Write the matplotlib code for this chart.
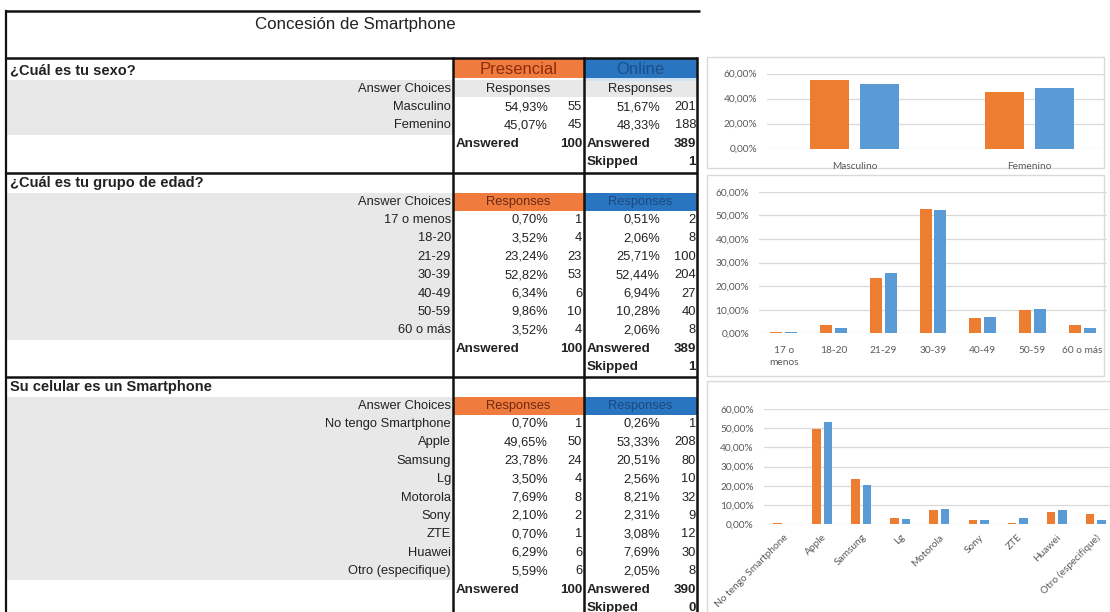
import numpy as np
import matplotlib
matplotlib.use("Agg")
import matplotlib.pyplot as plt
from matplotlib.patches import Rectangle
from matplotlib.ticker import FuncFormatter

# ---------------- data ----------------
title = "Concesión de Smartphone"

q1_title = "¿Cuál es tu sexo?"
q1_cats = ["Masculino", "Femenino"]
q1_pres_pct = [54.93, 45.07]
q1_pres_n = [55, 45]
q1_onl_pct = [51.67, 48.33]
q1_onl_n = [201, 188]
q1_answered = [100, 389]
q1_skipped = 1

q2_title = "¿Cuál es tu grupo de edad?"
q2_cats = ["17 o menos", "18-20", "21-29", "30-39", "40-49", "50-59", "60 o más"]
q2_chart_labels = ["17 o\nmenos", "18-20", "21-29", "30-39", "40-49", "50-59", "60 o más"]
q2_pres_pct = [0.70, 3.52, 23.24, 52.82, 6.34, 9.86, 3.52]
q2_pres_n = [1, 4, 23, 53, 6, 10, 4]
q2_onl_pct = [0.51, 2.06, 25.71, 52.44, 6.94, 10.28, 2.06]
q2_onl_n = [2, 8, 100, 204, 27, 40, 8]
q2_answered = [100, 389]
q2_skipped = 1

q3_title = "Su celular es un Smartphone"
q3_cats = ["No tengo Smartphone", "Apple", "Samsung", "Lg", "Motorola", "Sony",
           "ZTE", "Huawei", "Otro (especifique)"]
q3_pres_pct = [0.70, 49.65, 23.78, 3.50, 7.69, 2.10, 0.70, 6.29, 5.59]
q3_pres_n = [1, 50, 24, 4, 8, 2, 1, 6, 6]
q3_onl_pct = [0.26, 53.33, 20.51, 2.56, 8.21, 2.31, 3.08, 7.69, 2.05]
q3_onl_n = [1, 208, 80, 10, 32, 9, 12, 30, 8]
q3_answered = [100, 390]
q3_skipped = 0

group_names = ["Presencial", "Online"]

# ---------------- style ----------------
W, H = 1110, 612
FONT = "Liberation Sans"
GRAY = "#E8E8E8"
ORANGE_HDR = "#F07B3F"
BLUE_HDR = "#2A75BF"
ORANGE_TXT = "#8E2C0C"
BLUE_TXT = "#1C4F86"
BAR_OR = "#ED7D31"
BAR_BL = "#5B9BD5"
CHART_TXT = "#595959"

X_L, X_P, X_M, X_R = 6, 453, 584, 697
PITCH = 18.4
FS = 9.3
FSB = 9.6


def pct(v):
    return f"{v:.2f}%".replace(".", ",")


fig = plt.figure(figsize=(W / 100, H / 100), dpi=100)
bg = fig.add_axes([0, 0, 1, 1])
bg.set_xlim(0, W)
bg.set_ylim(H, 0)
bg.axis("off")


def rect(x0, y0, x1, y1, color, z=1):
    bg.add_patch(Rectangle((x0, y0), x1 - x0, y1 - y0, facecolor=color,
                           edgecolor="none", zorder=z))


def txt(x, y, s, ha="left", size=FS, weight="normal", color="#222222"):
    bg.text(x, y, s, ha=ha, va="center", fontsize=size, fontweight=weight,
            color=color, family=FONT, zorder=5)


def section(y_head, name, cats, pp, pn, op, on, answered, skipped, first=False):
    y_ac = y_head + 19
    rows = [y_ac + 18 + i * PITCH for i in range(len(cats))]
    y_ans = rows[-1] + PITCH
    y_skp = y_ans + PITCH
    rect(X_L, y_ac - 9.5, X_P, rows[-1] + PITCH / 2, GRAY)
    if first:
        rect(X_P, y_ac - 9.5, X_R, y_ac + 8, GRAY)
        rect(X_P, y_head - 12, X_M, y_head + 8, ORANGE_HDR)
        rect(X_M, y_head - 12, X_R, y_head + 8, BLUE_HDR)
        rect(X_M, y_head + 8, X_R, y_head + 10.5, "#CFE3F5")
        txt((X_P + X_M) / 2, y_head - 1, group_names[0], ha="center", size=12,
            color=ORANGE_TXT)
        txt((X_M + X_R) / 2, y_head - 1, group_names[1], ha="center", size=12,
            color=BLUE_TXT)
        txt((X_P + X_M) / 2, y_ac, "Responses", ha="center")
        txt((X_M + X_R) / 2, y_ac, "Responses", ha="center")
    else:
        rect(X_P, y_ac - 9.5, X_M, y_ac + 9, ORANGE_HDR)
        rect(X_M, y_ac - 9.5, X_R, y_ac + 9, BLUE_HDR)
        txt((X_P + X_M) / 2, y_ac, "Responses", ha="center", color="#6E2A10")
        txt((X_M + X_R) / 2, y_ac, "Responses", ha="center", color="#1B4A80")
    txt(10, y_head, name, size=10.5, weight="bold")
    txt(451, y_ac, "Answer Choices", ha="right")
    for y, c, a, b, d, e in zip(rows, cats, pp, pn, op, on):
        txt(451, y, c, ha="right")
        txt(548, y, pct(a), ha="right")
        txt(582, y, str(b), ha="right")
        txt(660, y, pct(d), ha="right")
        txt(696, y, str(e), ha="right")
    txt(456, y_ans, "Answered", weight="bold", size=FSB)
    txt(582, y_ans, str(answered[0]), ha="right", weight="bold", size=FSB)
    txt(587, y_ans, "Answered", weight="bold", size=FSB)
    txt(696, y_ans, str(answered[1]), ha="right", weight="bold", size=FSB)
    txt(587, y_skp, "Skipped", weight="bold", size=FSB)
    txt(696, y_skp, str(skipped), ha="right", weight="bold", size=FSB)


section(70, q1_title, q1_cats, q1_pres_pct, q1_pres_n, q1_onl_pct, q1_onl_n,
        q1_answered, q1_skipped, first=True)
section(183, q2_title, q2_cats, q2_pres_pct, q2_pres_n, q2_onl_pct, q2_onl_n,
        q2_answered, q2_skipped)
section(387, q3_title, q3_cats, q3_pres_pct, q3_pres_n, q3_onl_pct, q3_onl_n,
        q3_answered, q3_skipped)

# title
txt(355, 24, title, ha="center", size=12.2, color="#222222")

# table lines
LC = "#111111"
for y, x1 in [(11, 700), (58, X_R), (173, X_R), (377, X_R)]:
    bg.plot([X_L, x1], [y, y], color=LC, lw=1.8, solid_capstyle="butt", zorder=6)
bg.plot([X_L, X_L], [11, H], color=LC, lw=1.6, zorder=6)
for x in (X_P, X_M, X_R):
    bg.plot([x, x], [58, H], color=LC, lw=1.8, zorder=6)

# chart boxes
for (x0, y0, x1, y1) in [(707, 57, 1104, 168), (707, 175, 1104, 376), (707, 381, 1115, 640)]:
    bg.add_patch(Rectangle((x0, y0), x1 - x0, y1 - y0, fill=False,
                           edgecolor="#D9D9D9", lw=1, zorder=2))

fmt = FuncFormatter(lambda v, p: pct(v))


def chart(px0, px1, py0, py1, cats, pres, onl, yticks, xlim, width, off,
          rot=0, xpad=9):
    ax = fig.add_axes([px0 / W, 1 - py1 / H, (px1 - px0) / W, (py1 - py0) / H])
    ax.set_facecolor("none")
    x = np.arange(len(cats))
    ax.bar(x - off, pres, width, color=BAR_OR, zorder=3)
    ax.bar(x + off, onl, width, color=BAR_BL, zorder=3)
    ax.set_ylim(0, 60)
    ax.set_xlim(*xlim)
    ax.set_yticks(yticks)
    ax.yaxis.set_major_formatter(fmt)
    ax.grid(axis="y", color="#D9D9D9", lw=0.9, zorder=0)
    ax.set_axisbelow(True)
    for s in ax.spines.values():
        s.set_visible(False)
    ax.set_xticks(x)
    if rot:
        ax.set_xticklabels(cats, rotation=rot, ha="right", rotation_mode="anchor")
    else:
        ax.set_xticklabels(cats, linespacing=1.5)
    ax.tick_params(axis="y", length=0, pad=7, labelsize=7.3, labelcolor=CHART_TXT)
    ax.tick_params(axis="x", length=0, pad=xpad, labelsize=7.3, labelcolor=CHART_TXT)
    for lab in ax.get_xticklabels() + ax.get_yticklabels():
        lab.set_family("Lato")
    return ax


chart(767, 1105, 73.5, 148.5, q1_cats, q1_pres_pct, q1_onl_pct,
      [0, 20, 40, 60], (-0.5, -0.5 + 338 / 175), 0.223, 0.143, xpad=10)
chart(759, 1107, 191.7, 333.3, q2_chart_labels, q2_pres_pct, q2_onl_pct,
      [0, 10, 20, 30, 40, 50, 60], (-0.5, 6.5), 0.24, 0.15, xpad=9)
chart(763.5, 1115.4, 409, 524.3, q3_cats, q3_pres_pct, q3_onl_pct,
      [0, 10, 20, 30, 40, 50, 60], (-0.5, 8.5), 0.22, 0.145, rot=45, xpad=6)

fig.savefig("out.png", dpi=100)
